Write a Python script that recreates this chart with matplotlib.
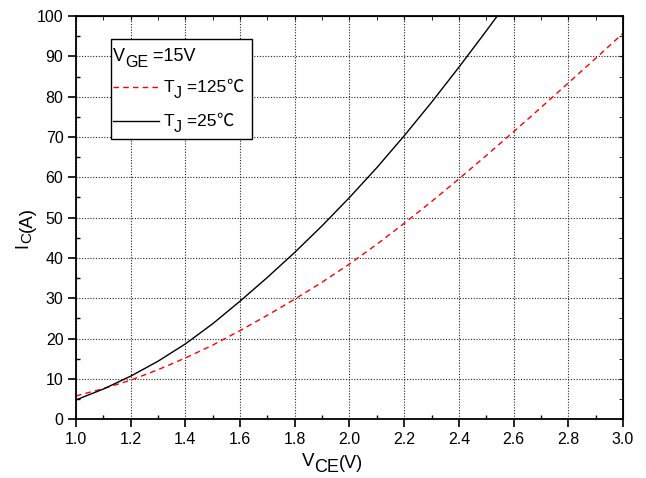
import numpy as np
import matplotlib
matplotlib.use("Agg")
import matplotlib.pyplot as plt
from matplotlib.ticker import MultipleLocator
from matplotlib.transforms import IdentityTransform
from matplotlib.patches import Rectangle
from matplotlib.lines import Line2D

plt.rcParams['font.family'] = ['Liberation Sans', 'DejaVu Sans']

# Output characteristic
vce_25 = [1.0, 1.1, 1.2, 1.3, 1.4, 1.5, 1.6, 1.7, 1.8, 1.9, 2.0, 2.1, 2.2, 2.3, 2.4, 2.5, 2.55]
ic_25 = [4.8, 7.5, 10.7, 14.4, 18.7, 23.7, 29.3, 35.2, 41.4, 48.0, 55.0, 62.4, 70.3, 78.6, 87.3, 96.3, 100.9]

vce_125 = [1.0, 1.1, 1.2, 1.3, 1.4, 1.5, 1.6, 1.7, 1.8, 1.9, 2.0, 2.1, 2.2, 2.3, 2.4, 2.5, 2.6, 2.7, 2.8, 2.9, 3.0]
ic_125 = [5.8, 7.6, 9.7, 12.3, 15.2, 18.4, 22.0, 25.8, 29.8, 34.0, 38.5, 43.4, 48.6, 54.0, 59.6, 65.4, 71.3, 77.3, 83.4, 89.5, 95.7]

xticks = [1.0, 1.2, 1.4, 1.6, 1.8, 2.0, 2.2, 2.4, 2.6, 2.8, 3.0]
yticks = [0, 10, 20, 30, 40, 50, 60, 70, 80, 90, 100]

W, H = 646, 478
fig = plt.figure(figsize=(W / 100, H / 100), dpi=100)
ax = fig.add_axes([0.1176, 0.1228, 0.8468, 0.8437])

red_dash = (0, (4, 3))
ax.plot(vce_125, ic_125, color='red', linestyle=red_dash, linewidth=1.0)
ax.plot(vce_25, ic_25, color='black', linewidth=1.0)

ax.set_xlim(1.0, 3.0)
ax.set_ylim(0, 100)
ax.set_xticks(xticks)
ax.set_yticks(yticks)
ax.set_xticklabels(['%.1f' % v for v in xticks])
ax.xaxis.set_minor_locator(MultipleLocator(0.1))
ax.yaxis.set_minor_locator(MultipleLocator(5))
ax.tick_params(which='major', direction='out', length=6, width=1.2, labelsize=11.5, pad=3)
ax.tick_params(which='minor', direction='in', length=3, width=1.0)

for s in ax.spines.values():
    s.set_linewidth(1.3)

# ticks on top and right, pointing in
top = ax.secondary_xaxis('top')
top.set_xticks(xticks)
top.xaxis.set_minor_locator(MultipleLocator(0.1))
top.tick_params(which='both', direction='in', length=3, labeltop=False)
right = ax.secondary_yaxis('right')
right.set_yticks(yticks)
right.yaxis.set_minor_locator(MultipleLocator(5))
right.tick_params(which='both', direction='in', length=3, labelright=False)

ax.grid(True, which='major', color='#222222', linestyle=(0, (1, 1.5)), linewidth=0.8)

renderer = fig.canvas.get_renderer()


def rich(x, y, pieces, rotation=0):
    # pieces: (text, fontsize, drop in px, family); x, y in image pixels (y down)
    px, py = x, H - y
    for s, size, drop, fam in pieces:
        if rotation == 0:
            t = fig.text(px, py - drop, s, fontsize=size, family=fam, ha='left', va='baseline',
                         transform=IdentityTransform(), zorder=5)
            px = t.get_window_extent(renderer).x1
        else:
            t = fig.text(px + drop, py, s, fontsize=size, family=fam, ha='left', va='baseline',
                         rotation=90, rotation_mode='anchor', transform=IdentityTransform(), zorder=5)
            py = t.get_window_extent(renderer).y1


sans = ['Liberation Sans', 'DejaVu Sans']
cjk = ['Noto Sans CJK SC', 'DejaVu Sans']

# axis titles
rich(301.5, 466, [('V', 13.5, 0, sans), ('CE', 13, 6.5, sans), ('(V)', 13, 2, sans)])
rich(27.5, 248, [('I', 13, 0, sans), ('C', 11, 3.5, sans), ('(A)', 13.5, 4, sans)], rotation=90)

# legend box
fig.patches.append(Rectangle((111, H - 139), 140.7, 100, transform=IdentityTransform(),
                             facecolor='white', edgecolor='black', linewidth=1.0, zorder=4))
fig.lines.append(Line2D([113, 159], [H - 86.7, H - 86.7], transform=IdentityTransform(),
                        color='red', linestyle=red_dash, linewidth=1.0, zorder=4.5))
fig.lines.append(Line2D([113, 159], [H - 121, H - 121], transform=IdentityTransform(),
                        color='black', linewidth=1.0, zorder=4.5))
rich(113, 61, [('V', 13, 0, sans), ('GE', 11.5, 5.7, sans), (' =15V', 13, 0, sans)])
rich(163.3, 91.7, [('T', 12.5, 0, sans), ('J', 11.5, 6, sans), (' =125', 12.5, 0, sans),
                   ('\u2103', 12.5, 0, cjk)])
rich(163.3, 126, [('T', 12.5, 0, sans), ('J', 11.5, 6, sans), (' =25', 12.5, 0, sans),
                  ('\u2103', 12.5, 0, cjk)])

fig.savefig('out.png', dpi=100)
